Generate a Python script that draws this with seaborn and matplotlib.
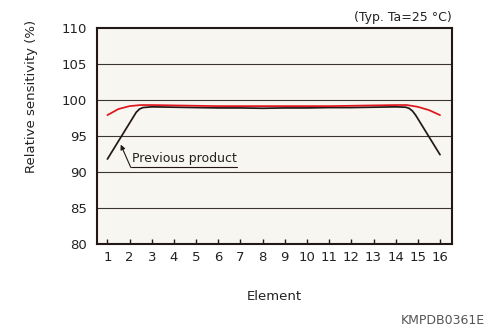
import numpy as np
import pandas as pd
import matplotlib
matplotlib.use("Agg")
import matplotlib.pyplot as plt
import seaborn as sns

# dados
elements = list(range(1, 17))

new_x = [1, 1.5, 2, 2.5, 3, 4, 5, 6, 7, 8, 9, 10, 11, 12, 13, 14, 14.5, 15, 15.5, 16]
new_y = [97.9, 98.75, 99.15, 99.3, 99.3, 99.25, 99.2, 99.15, 99.15, 99.15, 99.15,
         99.15, 99.15, 99.2, 99.25, 99.3, 99.3, 99.05, 98.6, 97.9]

prev_x = [1, 1.5, 2, 2.3, 2.45, 2.6, 2.8, 3, 4, 5, 6, 7, 8, 9, 10, 11, 12, 13, 14,
          14.45, 14.6, 14.75, 14.9, 15, 15.5, 16]
prev_y = [91.8, 94.3, 96.8, 98.3, 98.75, 98.95, 99.0, 99.05, 99.0, 98.95, 98.9,
          98.9, 98.85, 98.9, 98.9, 98.95, 98.95, 99.0, 99.05, 99.0, 98.85, 98.5,
          97.9, 97.4, 94.9, 92.4]

yticks = [80, 85, 90, 95, 100, 105, 110]

sns.set_style("white")
plt.rcParams["font.family"] = ["DejaVu Sans"]

dark = "#231815"

fig = plt.figure(figsize=(4.86, 3.36), dpi=100)
ax = fig.add_axes([97 / 486, 1 - 244 / 336, (452 - 97) / 486, (244 - 28) / 336])
ax.set_facecolor("#f7f6f0")

for y in yticks[1:-1]:
    ax.axhline(y, color="#3c3532", lw=0.8, zorder=1)

prev = pd.DataFrame({"x": prev_x, "y": prev_y})
new = pd.DataFrame({"x": new_x, "y": new_y})
sns.lineplot(data=prev, x="x", y="y", color=dark, lw=1.25, ax=ax, zorder=3,
             sort=False, solid_joinstyle="round")
sns.lineplot(data=new, x="x", y="y", color="#e0141c", lw=1.25, ax=ax, zorder=4,
             sort=False, solid_joinstyle="round")

ax.set_xlim(0.53, 16.54)
ax.set_ylim(80, 110)
ax.set_xticks(elements)
ax.set_yticks(yticks)
ax.tick_params(axis="x", bottom=True, direction="in", length=3.5, width=1.0,
               color=dark, pad=5, labelsize=9.5, labelcolor="#222222")
ax.tick_params(axis="y", left=False, length=0, pad=7, labelsize=9.5,
               labelcolor="#222222")
ax.set_xlabel("")
ax.set_ylabel("")
for s in ax.spines.values():
    s.set_color(dark)
    s.set_linewidth(1.5)

# anotacao do produto anterior
ax.annotate("", xy=(1.6, 93.8), xytext=(2.05, 90.65),
            arrowprops=dict(arrowstyle="-|>", color=dark, lw=0.8,
                            mutation_scale=7, shrinkA=0, shrinkB=0))
ax.plot([2.05, 6.83], [90.65, 90.65], color=dark, lw=0.8, zorder=2)
ax.text(2.12, 91.0, "Previous product", fontsize=9, color="#222222",
        ha="left", va="bottom")

fig.text(31 / 486, 1 - 96.5 / 336, "Relative sensitivity (%)", rotation=90,
         ha="center", va="center", fontsize=9.5, color="#222222")
fig.text(274 / 486, 1 - 296 / 336, "Element", ha="center", va="center",
         fontsize=9.5, color="#222222")
fig.text(452 / 486, 1 - 17 / 336, "(Typ. Ta=25 °C)", ha="right", va="center",
         fontsize=9, color="#222222")
fig.text(485 / 486, 1 - 320 / 336, "KMPDB0361E", ha="right", va="center",
         fontsize=9, color="#555555")

fig.savefig("out.png", dpi=100)
